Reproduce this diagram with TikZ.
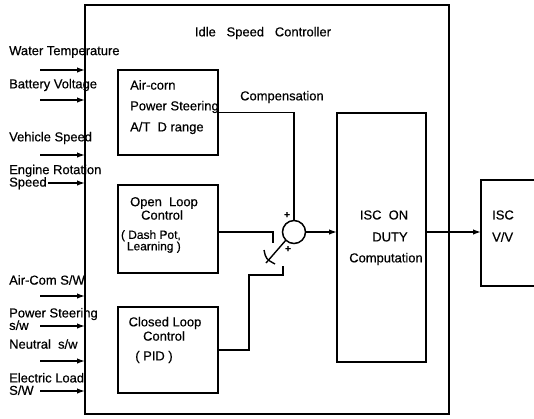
\documentclass[tikz,border=0pt]{standalone}
\usepackage{fontspec}
\setmainfont{Liberation Sans}[FakeBold=0.5]
\usetikzlibrary{arrows.meta}
\begin{document}
\begin{tikzpicture}[x=1bp,y=-1bp,
  box/.style={draw, line width=1.5bp, outer sep=0pt, inner sep=0pt, anchor=north west},
  conn/.style={line width=1.4bp},
  arr/.style={line width=1.4bp, -{Latex[length=8bp,width=5.5bp]}},
  lbl/.style={font=\fontsize{13}{12.5}\selectfont, inner sep=0pt},
  pl/.style={font=\fontsize{10}{10}\selectfont\bfseries, inner sep=0pt}]
\useasboundingbox (0,0) rectangle (534,418);

% main controller box
\node[box, line width=1.8bp, minimum width=364bp, minimum height=409bp] (main) at (85,5) {};
\node[lbl] (title) at (263,33) {Idle\ \ \ Speed\ \ \ Controller};

% inner boxes
\node[box, minimum width=100bp, minimum height=85bp] (b1) at (118,70) {};
\node[box, minimum width=100bp, minimum height=88bp] (b2) at (118,185) {};
\node[box, minimum width=100bp, minimum height=86bp] (b3) at (118,307) {};
\node[box, minimum width=89bp, minimum height=249bp] (b4) at (337,113) {};
\node[box, minimum width=70bp, minimum height=106bp] (b5) at (481,180) {};

% box texts
\node[lbl, anchor=west] (t1a) at (130,85) {Air-corn};
\node[lbl, anchor=west] (t1b) at (130,107) {Power Steering};
\node[lbl, anchor=west] (t1c) at (130,128) {A/T\ \ D range};

\node[lbl] (t2a) at (164,203) {Open\ \ Loop};
\node[lbl] (t2b) at (162,215) {Control};
\node[lbl, anchor=east, align=right, font=\fontsize{12}{11.5}\selectfont] (t2c) at (181,241.5) {( Dash Pot,\\Learning )};

\node[lbl] (t3a) at (165,323) {Closed Loop};
\node[lbl] (t3b) at (164,336) {Control};
\node[lbl] (t3c) at (154,357) {( PID )};

\node[lbl] (t4a) at (384,215) {ISC\ \ ON};
\node[lbl] (t4b) at (390,237) {DUTY};
\node[lbl] (t4c) at (386,259) {Computation};

\node[lbl, anchor=west] (t5a) at (492,215) {ISC};
\node[lbl, anchor=west] (t5b) at (492,237) {V/V};

\node[lbl, anchor=west] (comp) at (240,97) {Compensation};

% summing junction
\node[draw, circle, line width=1.5bp, minimum size=23bp, inner sep=0pt, outer sep=0pt] (sum) at (294,232) {};
\node[pl] (p1) at (287,215) {+};
\node[pl] (p2) at (288,249) {+};

% switch points
\coordinate (sw1) at (273,243);
\coordinate (sw2) at (283,266);
\coordinate (piv) at (266,263);
\coordinate (cr1) at (264,250);
\coordinate (cr2) at (275,264);

% connectors
\draw[conn] (b1.east) -| (sum.north);
\draw[conn] (b2.east |- sum) -| (sw1);
\draw[conn] (b3.east) -| (249,275) -| (sw2);
\draw[conn] (sum.225) -- (piv);
\draw[conn] (cr1) .. controls (266,259) .. (cr2);
\draw[arr] (sum.east) -- (sum.east -| b4.west);
\draw[arr] (b4.east |- sum) -- (b5.west |- sum);

% input labels
\node[lbl, anchor=west] (in1) at (9,52) {Water Temperature};
\node[lbl, anchor=west] (in2) at (9,85) {Battery Voltage};
\node[lbl, anchor=west] (in3) at (9,138) {Vehicle Speed};
\node[lbl, anchor=west, align=left] (in4) at (9,177) {Engine Rotation\\Speed};
\node[lbl, anchor=west] (in5) at (9,280) {Air-Com S/W};
\node[lbl, anchor=west, align=left] (in6) at (9,319) {Power Steering\\s/w};
\node[lbl, anchor=west] (in7) at (9,344) {Neutral\ \ s/w};
\node[lbl, anchor=west, align=left] (in8) at (9,384) {Electric Load\\S/W};

% input arrows
\coordinate (a1) at (40,70);
\coordinate (a2) at (40,100);
\coordinate (a3) at (40,155);
\coordinate (a4) at (48,183);
\coordinate (a5) at (40,296);
\coordinate (a6) at (40,326);
\coordinate (a7) at (40,361);
\coordinate (a8) at (40,391);
\foreach \a in {a1,a2,a3,a4,a5,a6,a7,a8}
  \draw[arr] (\a) -- (\a -| main.west);
\end{tikzpicture}
\end{document}
